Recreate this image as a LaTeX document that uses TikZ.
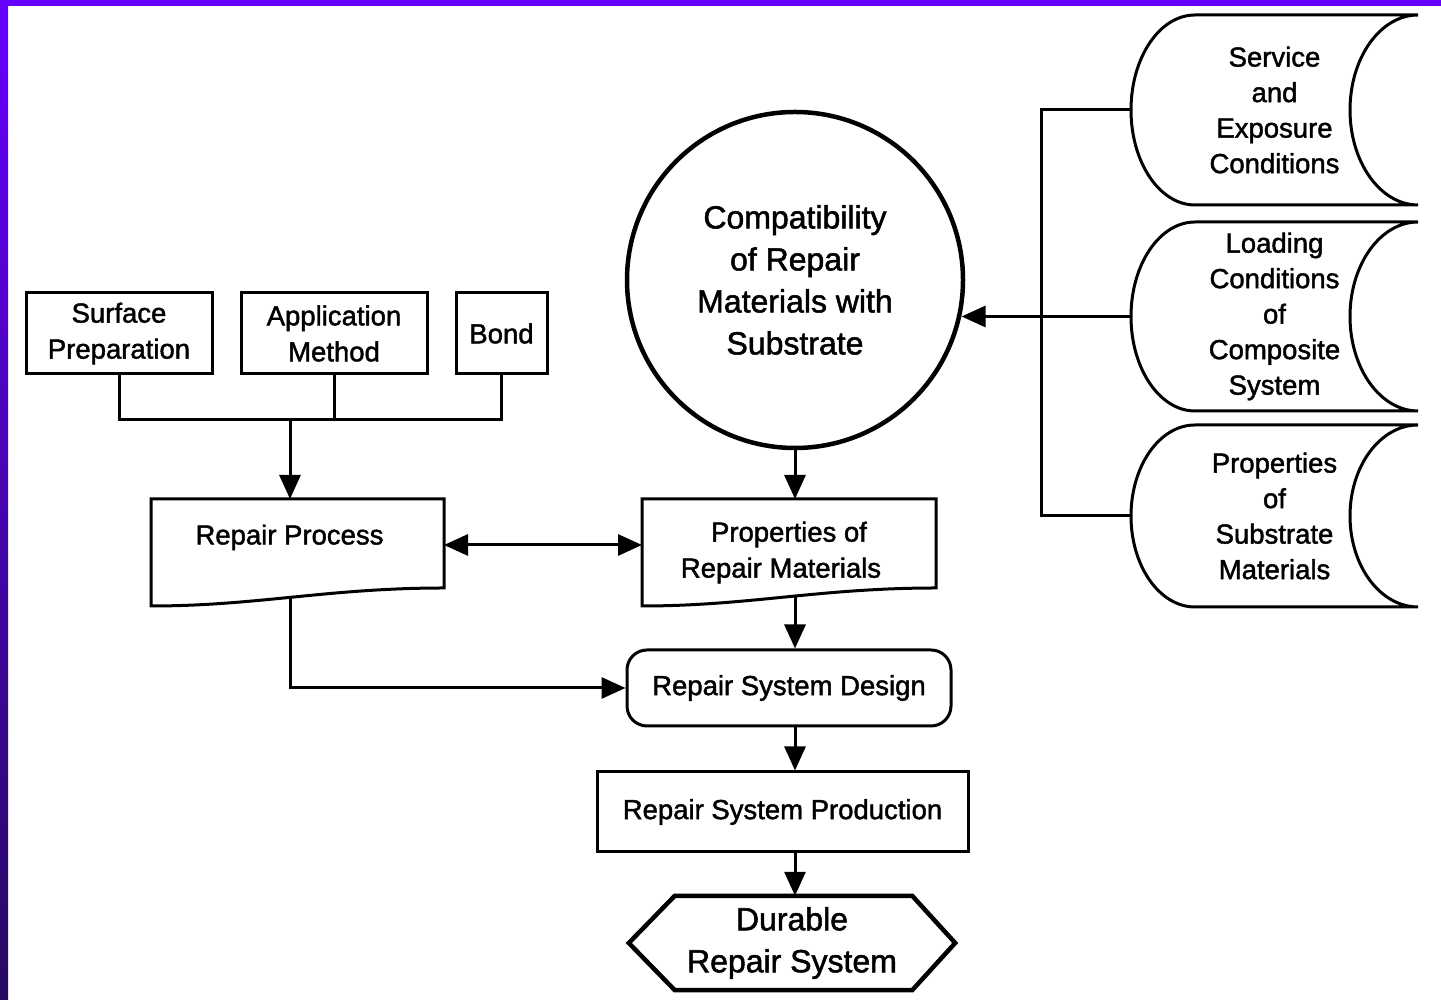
\documentclass[tikz,border=0pt]{standalone}
\usepackage{fontspec}
\setmainfont{Liberation Sans}[RawFeature={embolden=1.6}]
\usetikzlibrary{arrows.meta, calc, positioning}
\definecolor{framevio}{RGB}{102,0,255}
\definecolor{framedark}{RGB}{38,10,96}

\begin{document}
\begin{tikzpicture}[x=1pt, y=1pt,
        node distance=26pt and 26pt,
        box/.style={rectangle, draw=black, line width=3pt, align=center,
                    inner sep=0pt, minimum height=81pt,
                    font=\fontsize{27.5}{36}\selectfont},
        doc/.style={box, draw=none, outer sep=0pt, minimum height=107pt},
        store/.style={doc, minimum width=287pt, font=\fontsize{27.5}{35.5}\selectfont},
        big/.style={align=center, inner sep=0pt, font=\fontsize{32}{42}\selectfont},
        wire/.style={line width=3pt},
        arrow/.style={wire, -{Triangle[width=21pt, length=24pt]}},
        darrow/.style={wire, {Triangle[width=21pt, length=24pt]}-{Triangle[width=21pt, length=24pt]}},
    ]
    % 背景与边框
    \useasboundingbox (0,0) rectangle (1441,1000);
    \fill[white] (0,0) rectangle (1441,1000);
    \fill[framevio] (0,994) rectangle (1441,1000);
    \shade[top color=framevio, bottom color=framedark] (0,0) rectangle (8,1000);

    % 左上：三个输入
    \node[box, minimum width=186pt] (surf) at (119,666.5) {Surface\\Preparation};
    \node[box, minimum width=186pt, right=26pt of surf] (appl) {Application\\Method};
    \node[box, minimum width=91pt, right=26pt of appl] (bond) {Bond};

    % 中层：两个文档框
    \node[doc, minimum width=293pt] (proc) at (297.5,447.5) {Repair Process\hspace*{16pt}\\\mbox{}};
    \node[doc, minimum width=294pt] (prop) at (789,447.5) {Properties of\\Repair Materials\hspace*{16pt}};
    \foreach \s in {proc, prop}
        \draw[wire] (\s.north west) -- (\s.north east) -- ([yshift=18pt]\s.south east)
            .. controls ($(\s.south)+(30pt,18pt)$) and ($(\s.south)+(-40pt,0pt)$) .. (\s.south west) -- cycle;

    % 中心：相容性
    \node[circle, draw, line width=4.5pt, minimum size=336pt, big] (comp) at (795,720)
        {Compatibility\\of Repair\\Materials with\\Substrate};

    % 右侧：三个条件
    \node[store, minimum height=190pt] (serv) at (1274.5,890) {Service\\and\\Exposure\\Conditions};
    \node[store, minimum height=189pt, below=17pt of serv] (load) {Loading\\Conditions\\of\\Composite\\System};
    \node[store, minimum height=182pt, below=14pt of load] (subs) {Properties\\of\\Substrate\\Materials};
    \foreach \s in {serv, load, subs}
        \draw[wire] let \p1 = ($(\s.north)-(\s.center)$) in
            ([xshift=64pt]\s.north west) -- (\s.north east)
            arc[start angle=90, end angle=270, x radius=68pt, y radius=\y1]
            -- ([xshift=64pt]\s.south west)
            arc[start angle=270, end angle=90, x radius=64pt, y radius=\y1] -- cycle;

    % 下方：设计、生产、结果
    \node[box, rounded corners=20pt, minimum width=324pt, minimum height=76pt] (dsgn) at (789,312) {Repair System Design};
    \node[box, minimum width=371pt, minimum height=80pt] (prod) at (782.5,188) {Repair System Production};
    \node[big, minimum width=326pt, minimum height=94pt] (dura) at (792,57) {Durable\\Repair System};
    \draw[line width=4.5pt] (dura.west) -- ([xshift=46pt]dura.north west) -- ([xshift=-43pt]dura.north east)
        -- (dura.east) -- ([xshift=-43pt]dura.south east) -- ([xshift=46pt]dura.south west) -- cycle;

    % 连线
    \coordinate (join) at ($(proc.north)+(-7.5pt,79pt)$);
    \coordinate (bus) at (1041,0);
    \coordinate (cin) at (comp.-12.4);
    \draw[wire] (surf.south) |- (bond.south |- join) -- (bond.south);
    \draw[wire] (appl.south) -- (appl.south |- join);
    \draw[arrow] (join) -- (join |- proc.north);
    \draw[darrow] ([yshift=7.5pt]proc.east) -- ([yshift=7.5pt]prop.west);
    \draw[arrow] (comp.south) -- (comp.south |- prop.north);
    \draw[wire] (serv.west) -- (serv.west -| bus) -- (subs.west -| bus) -- (subs.west);
    \draw[arrow] (load.west) -- (load.west -| cin);
    \draw[arrow] (proc.south) ++(-7.5pt,9pt) |- (dsgn.west);
    \draw[arrow] (prop.south -| comp.south) ++(0,9pt) -- (dsgn.north -| comp.south);
    \draw[arrow] (dsgn.south -| comp.south) -- (prod.north -| comp.south);
    \draw[arrow] (prod.south -| comp.south) -- (dura.north -| comp.south);
\end{tikzpicture}
\end{document}
